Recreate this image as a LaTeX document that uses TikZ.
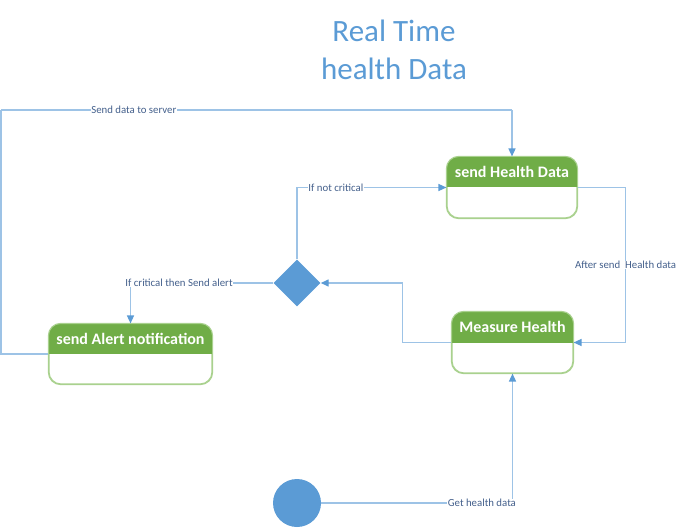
\documentclass[tikz,border=0pt]{standalone}
\usepackage{fontspec}
\setmainfont{Carlito}
\usetikzlibrary{shapes.geometric,arrows.meta,calc}
\definecolor{hdrgreen}{HTML}{70AD47}
\definecolor{boxline}{HTML}{A9D18E}
\definecolor{lineblue}{HTML}{9DC3E6}
\definecolor{tipblue}{HTML}{5B9BD5}
\definecolor{shapeblue}{HTML}{5B9BD5}
\definecolor{lbltext}{HTML}{44608C}
\tikzset{
  statebox/.style={draw=boxline, line width=1.1pt, rounded corners=12pt, inner sep=0pt},
  hdrtext/.style={text=white, font=\fontsize{16}{18}\selectfont\bfseries, inner sep=0pt},
  conn/.style={draw=lineblue, line width=1.4pt, -{Triangle[length=8pt,width=7pt,color=tipblue]}},
  plain/.style={draw=lineblue, line width=1.4pt},
  lbl/.style={fill=white, text=lbltext, font=\fontsize{10.8}{12}\selectfont, inner sep=0.6pt},
}
\newcommand{\statehdr}[2]{%
  \begin{scope}
    \clip[rounded corners=12pt] (#1.south west) rectangle (#1.north east);
    \fill[hdrgreen] (#1.north west) rectangle (#1.east);
  \end{scope}
  \draw[boxline, line width=1.1pt, rounded corners=12pt] (#1.south west) rectangle (#1.north east);
  \node[hdrtext] (#1t) at ($(#1.north)!0.5!(#1.center)$) {#2};
}
\begin{document}
\begin{tikzpicture}[x=1pt,y=-1pt]
\useasboundingbox (0,0) rectangle (685,529);
% title
\node[text=shapeblue, font=\fontsize{31}{38}\selectfont, align=center] (title) at (394,50) {Real Time\\health Data};
% state boxes
\node[statebox, minimum width=130pt, minimum height=61pt] (shd) at (512,187.5) {};
\statehdr{shd}{send Health Data}
\node[statebox, minimum width=121pt, minimum height=61pt] (mh) at (512.5,342.5) {};
\statehdr{mh}{Measure Health}
\node[statebox, minimum width=163pt, minimum height=60pt] (sa) at (130.5,354) {};
\statehdr{sa}{send Alert notification}
% decision and start
\node[diamond, fill=shapeblue, inner sep=0pt, minimum width=47pt, minimum height=47pt] (dec) at (297,283) {};
\node[circle, fill=shapeblue, inner sep=0pt, minimum size=48pt] (start) at (297,503) {};
% connectors
\draw[conn] (start.east) -| node[lbl, pos=0.42] {Get health data} (mh.south);
\draw[conn] (mh.west) -- ++(-49,0) |- (dec.east);
\draw[conn] (dec.west) -| node[lbl, pos=0.33] {If critical then Send alert} (sa.north);
\draw[conn] (dec.north) |- node[lbl, pos=0.63] {If not critical} (shd.west);
\draw[conn] (shd.east) -- ++(48,0) |- node[lbl, pos=0.25] {After send~ Health data} (mh.east);
\coordinate (tl) at (1,110);
\coordinate (tr) at (shd.north |- tl);
\draw[plain] (sa.west) -| (tl);
\draw[plain] (tl) -- node[lbl, pos=0.26] {Send data to server} (tr);
\draw[conn] (tr) -- (shd.north);
\end{tikzpicture}
\end{document}
